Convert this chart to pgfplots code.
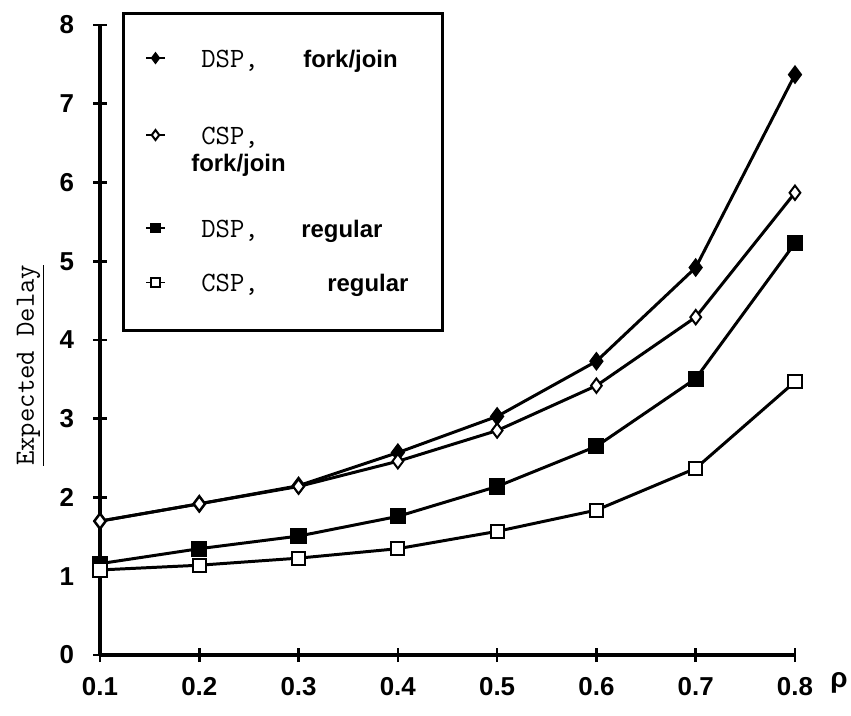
\documentclass[border=0pt]{standalone}
\usepackage{fontspec}
\setmainfont{Liberation Sans}
\usepackage{pgfplots}
\pgfplotsset{compat=1.18}

\begin{document}
\begin{tikzpicture}
% page frame, same proportions as the scan
\useasboundingbox (-50bp,-30.5bp) rectangle (375.5bp,327.5bp);
\begin{axis}[
    scale only axis,
    width=347.5bp, height=315bp,
    xmin=0.1, xmax=0.8, ymin=0, ymax=8,
    axis x line=bottom, axis y line=left,
    axis line style={-, line width=1.6pt},
    tick align=center,
    major tick length=7bp,
    tick style={line width=1.3pt, black},
    xtick={0.1,0.2,0.3,0.4,0.5,0.6,0.7,0.8},
    xticklabels={0.1,0.2,0.3,0.4,0.5,0.6,0.7,0.8},
    ytick={0,1,...,8},
    /pgf/number format/assume math mode=true,
    tick label style={font=\bfseries\fontsize{13}{13}\selectfont},
    xticklabel style={yshift=-4bp},
    yticklabel style={xshift=-6bp},
    xlabel={\bfseries ρ},
    xlabel style={font=\fontsize{14}{14}\selectfont, at={(axis description cs:1,0)}, anchor=center, xshift=22bp, yshift=-14bp},
    ylabel={\underline{\ttfamily Expected Delay}},
    ylabel style={font=\fontsize{14}{14}\selectfont, at={(axis description cs:-0.1,0.46)}, anchor=center},
    clip=false,
    every axis plot/.append style={line width=1.5pt, black},
    legend image code/.code={%
        \draw[mark repeat=2, mark phase=2, #1, line width=0.8pt,
              every mark/.append style={scale=0.7}]
        plot coordinates {(0cm,0.16cm) (0.16cm,0.16cm) (0.32cm,0.16cm)};},
    legend style={at={(axis description cs:0.032,1.02)}, anchor=north west,
        draw=black, line width=1.4pt, inner xsep=11bp, inner ysep=16bp,
        row sep=13bp, font=\fontsize{14}{15}\selectfont,
        cells={anchor=base west}},
]
\addplot[mark=diamond*, mark size=3.6pt, mark options={fill=black}]
coordinates {(0.1,1.70) (0.2,1.92) (0.3,2.15) (0.4,2.57) (0.5,3.03) (0.6,3.73) (0.7,4.92) (0.8,7.37)};
\addplot[mark=diamond*, mark size=3.6pt, mark options={fill=white, line width=1pt}]
coordinates {(0.1,1.70) (0.2,1.92) (0.3,2.14) (0.4,2.46) (0.5,2.85) (0.6,3.42) (0.7,4.29) (0.8,5.87)};
\addplot[mark=square*, mark size=3.3pt, mark options={fill=black}]
coordinates {(0.1,1.16) (0.2,1.35) (0.3,1.51) (0.4,1.76) (0.5,2.14) (0.6,2.65) (0.7,3.51) (0.8,5.23)};
\addplot[mark=square*, mark size=3.3pt, mark options={fill=white, line width=1pt}]
coordinates {(0.1,1.08) (0.2,1.14) (0.3,1.23) (0.4,1.35) (0.5,1.57) (0.6,1.84) (0.7,2.37) (0.8,3.47)};
\legend{
    {\hspace*{16bp}\makebox[51bp][l]{\ttfamily DSP,}{\bfseries\fontsize{12}{13}\selectfont fork/join}\hspace*{4bp}},
    {\vtop{\baselineskip=13.5bp
        \hbox{\hspace*{16bp}\ttfamily CSP,\rule{0pt}{20bp}}
        \hbox{\hspace*{11bp}\bfseries\fontsize{12}{13}\selectfont fork/join}}},
    {\rule{0pt}{28bp}\hspace*{16bp}\makebox[50bp][l]{\ttfamily DSP,}{\bfseries\fontsize{12}{13}\selectfont regular}},
    {\hspace*{16bp}\makebox[63bp][l]{\ttfamily CSP,}{\bfseries\fontsize{12}{13}\selectfont regular}\hspace*{4bp}}
}
\end{axis}
\end{tikzpicture}
\end{document}
